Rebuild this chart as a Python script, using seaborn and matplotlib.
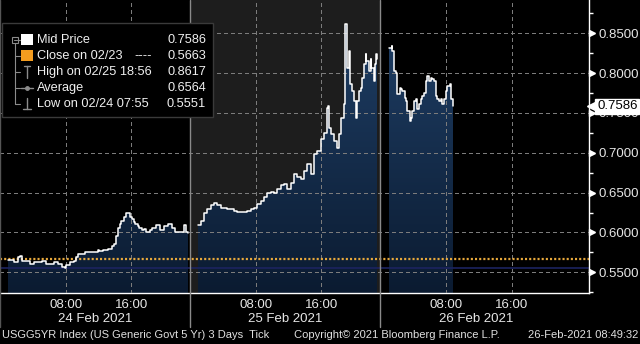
import numpy as np
import pandas as pd
import matplotlib
matplotlib.use("Agg")
import matplotlib.pyplot as plt
import seaborn as sns
from matplotlib.patches import Rectangle
from matplotlib.colors import LinearSegmentedColormap

# ---------------- data ----------------
day_labels = ["24 Feb 2021", "25 Feb 2021", "26 Feb 2021"]

d1_hours = [0.9, 1.2, 1.6, 2.1, 2.4, 2.6, 3.1, 3.6, 4.1, 4.6,
            5.1, 5.6, 6.0, 6.5, 7.0, 7.5, 7.9, 8.0, 8.5, 9.0,
            9.2, 9.5, 10.0, 10.4, 10.9, 11.4, 11.9, 12.1, 12.6, 13.1,
            13.6, 13.9, 14.1, 14.4, 14.6, 14.8, 15.1, 15.3, 15.6, 15.8,
            16.1, 16.3, 16.5, 16.8, 17.0, 17.3, 17.5, 17.8, 18.0, 18.3,
            18.5, 19.0, 19.5, 20.0, 20.5, 21.0, 21.4, 21.9, 22.4, 22.7, 22.9]
d1_values = [0.565, 0.565, 0.5625, 0.569, 0.570, 0.564, 0.564, 0.561, 0.5625, 0.5625,
             0.564, 0.561, 0.561, 0.5625, 0.560, 0.557, 0.5551, 0.559, 0.5625, 0.564,
             0.569, 0.5725, 0.5725, 0.575, 0.575, 0.576, 0.5775, 0.577, 0.5775, 0.579,
             0.5825, 0.586, 0.595, 0.605, 0.611, 0.615, 0.620, 0.624, 0.624, 0.620,
             0.6175, 0.6125, 0.610, 0.6075, 0.605, 0.6025, 0.604, 0.601, 0.600, 0.6025,
             0.606, 0.609, 0.6025, 0.6075, 0.610, 0.605, 0.601, 0.601, 0.609, 0.600, 0.599]

d2_hours = [0.9, 1.3, 1.65, 2.0, 2.5, 2.9, 3.2, 3.7, 4.1, 4.5,
            4.9, 5.3, 5.7, 6.2, 6.5, 6.9, 7.4, 7.8, 8.1, 8.6,
            9.0, 9.3, 9.8, 10.2, 10.6, 11.0, 11.4, 11.8, 12.3, 12.6,
            13.0, 13.5, 13.9, 14.2, 14.7, 15.1, 15.4, 15.9, 16.3, 16.7,
            16.8, 16.9, 17.2, 17.5, 17.9, 18.1, 18.4, 18.7, 18.85, 18.93,
            19.1, 19.35, 19.5, 19.7, 20.0, 20.2, 20.3, 20.6, 20.8, 20.9,
            21.2, 21.4, 21.5, 21.8, 22.0, 22.1, 22.4, 22.6, 22.7, 22.8]
d2_values = [0.609, 0.615, 0.624, 0.630, 0.634, 0.6375, 0.635, 0.631, 0.631, 0.630,
             0.629, 0.6275, 0.626, 0.626, 0.626, 0.627, 0.630, 0.631, 0.636, 0.640,
             0.644, 0.649, 0.651, 0.649, 0.655, 0.659, 0.661, 0.655, 0.6625, 0.674,
             0.669, 0.6675, 0.6775, 0.686, 0.674, 0.699, 0.7025, 0.7175, 0.725, 0.756,
             0.759, 0.731, 0.724, 0.715, 0.706, 0.724, 0.744, 0.761, 0.794, 0.8617,
             0.806, 0.8275, 0.786, 0.7775, 0.765, 0.744, 0.765, 0.7775, 0.781, 0.794,
             0.811, 0.824, 0.815, 0.8025, 0.8175, 0.806, 0.79, 0.811, 0.824, 0.8175]

d3_hours = [1.0, 1.3, 1.4, 1.65, 1.9, 2.0, 2.3, 2.5, 2.6, 2.9,
            3.1, 3.2, 3.5, 3.7, 3.85, 4.1, 4.3, 4.45, 4.7, 4.9,
            5.05, 5.3, 5.55, 5.7, 5.9, 6.1, 6.3, 6.5, 6.8, 6.9,
            7.1, 7.35, 7.5, 7.75, 8.0, 8.1, 8.4, 8.6, 8.82]
d3_values = [0.831, 0.834, 0.8275, 0.8025, 0.80, 0.774, 0.781, 0.78, 0.7775, 0.769,
             0.765, 0.7525, 0.74, 0.744, 0.7525, 0.765, 0.7675, 0.755, 0.761, 0.7675,
             0.771, 0.775, 0.79, 0.796, 0.79, 0.794, 0.7925, 0.79, 0.771, 0.7675,
             0.765, 0.7675, 0.761, 0.7675, 0.7775, 0.784, 0.786, 0.7675, 0.7586]

mid_value = 0.7586
close_value = 0.5663
high_value = 0.8617
avg_value = 0.6564
low_value = 0.5551

legend_rows = ["Mid Price", "Close on 02/23", "High on 02/25 18:56", "Average", "Low on 02/24 07:55"]
legend_values = [mid_value, close_value, high_value, avg_value, low_value]

y_ticks = [0.55, 0.60, 0.65, 0.70, 0.75, 0.80, 0.85]
y_minor = [0.525, 0.575, 0.625, 0.675, 0.725, 0.775, 0.825, 0.875]
hour_ticks = [8, 16]
hour_tick_labels = ["08:00", "16:00"]
hour_minor = [0, 4, 12, 20]

footer_left = "USGG5YR Index (US Generic Govt 5 Yr) 3 Days  Tick"
footer_mid = "Copyright\u00a9 2021 Bloomberg Finance L.P."
footer_right = "26-Feb-2021 08:49:32"

# ---------------- layout constants ----------------
DAY_SPAN = 23.27
XMIN, XMAX = -0.06, 72.0
YMIN, YMAX = 0.524, 0.8918
W, H = 640, 344

sns.set_style("dark")
plt.rcParams["font.family"] = ["Liberation Sans", "DejaVu Sans"]
plt.rcParams["lines.scale_dashes"] = False

days = [(d1_hours, d1_values), (d2_hours, d2_values), (d3_hours, d3_values)]
frames = []
for i, (hrs, vals) in enumerate(days):
    frames.append(pd.DataFrame({"pos": np.array(hrs) + i * DAY_SPAN,
                                "value": vals, "day": i}))
df = pd.concat(frames, ignore_index=True)

fig = plt.figure(figsize=(6.4, 3.44), dpi=100, facecolor="black")
ax = fig.add_axes([0, 1 - 293 / H, 589 / W, 293 / H])
ax.set_facecolor("black")

# day 2 gray background
ax.axvspan(1 * DAY_SPAN, 2 * DAY_SPAN, color="#1d1d1d", zorder=0, lw=0)

# gradient fills under the line
cmap = LinearSegmentedColormap.from_list("bbg", ["#0b1b31", "#1f3f66"])
grad = np.linspace(0, 1, 256).reshape(-1, 1)
for d in range(3):
    sub = df[df["day"] == d]
    poly = ax.fill_between(sub["pos"], sub["value"], YMIN, step="post",
                           facecolor="none", edgecolor="none")
    im = ax.imshow(grad, extent=[sub["pos"].min(), sub["pos"].max(), YMIN, 0.87],
                   aspect="auto", cmap=cmap, origin="lower", zorder=1.5)
    im.set_clip_path(poly.get_paths()[0], transform=ax.transData)

# grid (crisp 1-px dashed lines)
grid_c = "#7c7c7c"
grid_kw = dict(color=grid_c, lw=0.75, ls=(0, (2.2, 2.2)), zorder=3.5,
               antialiased=False, snap=True)
for v in y_ticks:
    ax.axhline(v, **grid_kw)
for d in range(3):
    for h in hour_ticks:
        ax.axvline(d * DAY_SPAN + h, **grid_kw)

# reference lines
ax.axhline(low_value, color="#1c2460", lw=1.2, zorder=1.9)
ax.axhline(close_value, color="#e8a93c", lw=1.6, ls=(0, (1.5, 1.5)), zorder=3.6)

# the price line
sns.lineplot(data=df, x="pos", y="value", units="day", estimator=None,
             color="white", lw=1.1, drawstyle="steps-post", ax=ax, zorder=4,
             legend=False)

# day separators (extend below axis)
yb = YMIN - 34 / 796.7
for d in range(1, 3):
    ax.plot([d * DAY_SPAN - 0.06] * 2, [YMAX, yb], color="#8a8a8a", lw=1.0,
            clip_on=False, zorder=5)
ax.plot([XMIN + 0.06] * 2, [YMAX, yb], color="#555555", lw=1.0, clip_on=False, zorder=5)

ax.set_xlim(XMIN, XMAX)
ax.set_ylim(YMIN, YMAX)

# x axis
major_x = [d * DAY_SPAN + h for d in range(3) for h in hour_ticks]
minor_x = [d * DAY_SPAN + h for d in range(3) for h in hour_minor]
ax.set_xticks(major_x)
ax.set_xticklabels(hour_tick_labels * 3)
ax.set_xticks(minor_x, minor=True)
ax.tick_params(axis="x", which="both", direction="out", length=3, width=1,
               color="white", labelcolor="#e6e6e6", labelsize=9.5, pad=1.5)
ax.set_xlabel("")
for d, lab in enumerate(day_labels):
    ax.text(d * DAY_SPAN + 11.6, -0.088, lab, transform=ax.get_xaxis_transform(),
            ha="center", va="center", color="#e6e6e6", fontsize=9.5)

# y axis
ax.yaxis.tick_right()
ax.set_yticks(y_ticks)
ax.set_yticklabels([f"{v:.4f}" for v in y_ticks])
ax.set_yticks(y_minor, minor=True)
ax.tick_params(axis="y", which="major", length=0, labelcolor="#e6e6e6",
               labelsize=9.5, pad=6.5)
ax.tick_params(axis="y", which="minor", direction="out", length=3, width=1, color="white")
ax.set_ylabel("")
ax.plot([1 + 3 / 589] * len(y_ticks), y_ticks, marker=">", ls="none", color="white",
        ms=4.5, transform=ax.get_yaxis_transform(), clip_on=False, zorder=6)

for s in ["top", "left"]:
    ax.spines[s].set_visible(False)
for s in ["right", "bottom"]:
    ax.spines[s].set_color("white")
    ax.spines[s].set_linewidth(1.0)
    ax.spines[s].set_visible(True)
ax.grid(False)

# current value tag
ax.plot([1 + 3.5 / 589], [mid_value], marker="<", ms=7, color="white",
        transform=ax.get_yaxis_transform(), clip_on=False, zorder=7)
ax.text(1 + 8 / 589, mid_value, f"{mid_value:.4f}", transform=ax.get_yaxis_transform(),
        ha="left", va="center", color="black", fontsize=9.5, clip_on=False, zorder=8,
        bbox=dict(boxstyle="square,pad=0.12", fc="white", ec="white"))

# ---------------- overlay (legend, footer) ----------------
ov = fig.add_axes([0, 0, 1, 1], zorder=10)
ov.set_xlim(0, W)
ov.set_ylim(H, 0)
ov.axis("off")
ov.patch.set_alpha(0)

ov.add_patch(Rectangle((2, 23), 211, 94, fc="black", ec="#3a3a3a", lw=1))
rows_y = [40, 56, 72, 88, 104]
tree_c = "#8c8c8c"
ov.add_patch(Rectangle((12, 37), 6, 6, fc="none", ec=tree_c, lw=0.8))
ov.plot([13.5, 16.5], [40, 40], color=tree_c, lw=0.8)
ov.plot([15, 15], [43, rows_y[-1]], color=tree_c, lw=0.8)
for ry in rows_y[1:]:
    ov.plot([15, 20], [ry, ry], color=tree_c, lw=0.8)
ov.plot([18, 20], [40, 40], color=tree_c, lw=0.8)
ov.add_patch(Rectangle((21, 34), 12, 11, fc="white", ec="none"))
ov.add_patch(Rectangle((21, 50), 12, 11, fc="#f39c1f", ec="none"))
ov.plot([27, 27], [66, 78], color=tree_c, lw=1)
ov.plot([24, 30], [66, 66], color=tree_c, lw=1)
ov.plot([21, 33], [88, 88], color=tree_c, lw=1)
ov.plot([27], [88], marker="o", ms=2.5, color=tree_c)
ov.plot([27, 27], [98, 109], color=tree_c, lw=1)
ov.plot([23, 31], [109, 109], color=tree_c, lw=1)

legend_fs = 9.2
for ry, lab, val in zip(rows_y, legend_rows, legend_values):
    ov.text(37, ry, lab, color="#f0f0f0", fontsize=legend_fs, va="center", ha="left")
    ov.text(206, ry, f"{val:.4f}", color="#f0f0f0", fontsize=legend_fs,
            va="center", ha="right")
ov.text(134, rows_y[1], "----", color="#f0f0f0", fontsize=legend_fs, va="center", ha="left")

ov.text(2, 335, footer_left, color="#e0e0e0", fontsize=8, va="center", ha="left")
ov.text(294, 335, footer_mid, color="#e0e0e0", fontsize=8, va="center", ha="left")
ov.text(638, 335, footer_right, color="#e0e0e0", fontsize=8, va="center", ha="right")

fig.savefig("out.png", dpi=100, facecolor="black")
